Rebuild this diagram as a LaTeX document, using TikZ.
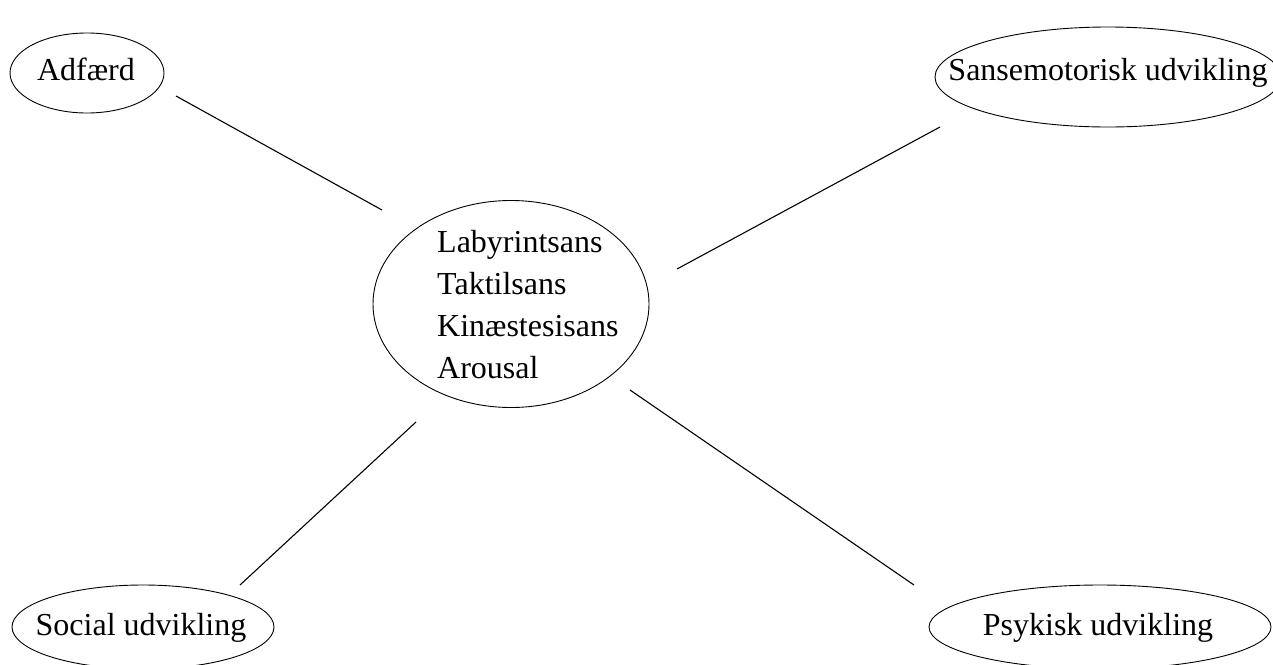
\documentclass[tikz,border=0pt]{standalone}
\usepackage{fontspec}
\setmainfont{Liberation Serif}
\begin{document}
\begin{tikzpicture}[x=1pt,y=-1pt,
  label text/.style={inner sep=0pt,
    font=\fontsize{32}{38}\selectfont, text height=22pt, text depth=7pt},
  textblock/.style={inner sep=0pt, align=left, anchor=north west,
    font=\fontsize{32}{42}\selectfont},
  rim/.style={line width=0.9pt},
  link/.style={line width=1.1pt}]
\useasboundingbox (0,0) rectangle (1273,664);
\clip (0,0) rectangle (1273,664);
\fill[white] (0,0) rectangle (1273,664);

% outer bubbles
\node[label text] (adf) at (86,73) {Adfærd};
\draw[rim] (87,73) ellipse (77 and 40);
\node[label text] (san) at (1108,72.5) {Sansemotorisk udvikling};
\draw[rim] (1108,77) ellipse (173 and 50);
\node[label text] (soc) at (141,627.5) {Social udvikling};
\draw[rim] (143,627) ellipse (131 and 42);
\node[label text] (psy) at (1098,627.5) {Psykisk udvikling};
\draw[rim] (1100,627) ellipse (171 and 42);

% centre bubble
\node[textblock] (ct) at (437,230.5) {Labyrintsans\\Taktilsans\\Kinæstesisans\\Arousal};
\draw[rim] (511,304) ellipse (138 and 103.5);

\coordinate (a1) at (176,96);
\coordinate (a2) at (382,210);
\coordinate (s1) at (940,127);
\coordinate (s2) at (677,269);
\coordinate (o1) at (240,585);
\coordinate (o2) at (416,422);
\coordinate (p1) at (914,585);
\coordinate (p2) at (630,390);

\draw[link] (a1) -- (a2);
\draw[link] (s1) -- (s2);
\draw[link] (o1) -- (o2);
\draw[link] (p1) -- (p2);
\end{tikzpicture}
\end{document}
